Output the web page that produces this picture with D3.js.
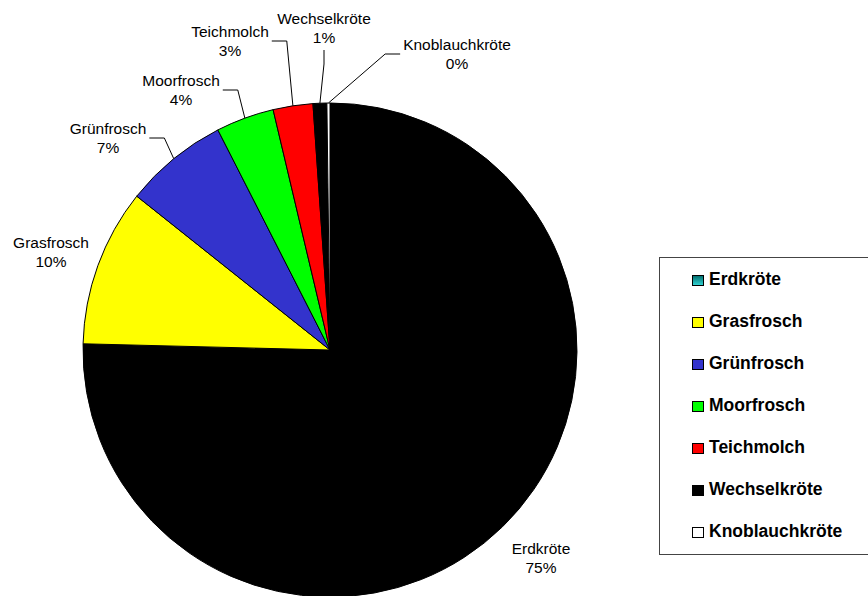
<!DOCTYPE html>
<html>
<head>
<meta charset="utf-8">
<script src="https://cdn.jsdelivr.net/npm/d3@7"></script>
<style>
  body { margin: 0; background: #fff; }
  text { font-family: Arial, "Liberation Sans", sans-serif; }
</style>
</head>
<body>
<svg id="chart" width="868" height="596"></svg>
<script>
// data
var species = ['Erdkröte', 'Grasfrosch', 'Grünfrosch', 'Moorfrosch', 'Teichmolch', 'Wechselkröte', 'Knoblauchkröte'];
var counts = [754, 103, 68, 38, 26, 9, 2];
var sliceColors = ['#000000', '#ffff00', '#3333cc', '#00ff00', '#ff0000', '#000000', '#ffffff'];

var cx = 330, cy = 350, radius = 247;

// label placement relative to pie centre (first baseline), and leader style
var labelPos = [
  { dx: 211, dy: 204, leader: null },
  { dx: -279, dy: -102, leader: null },
  { dx: -222, dy: -216, leader: 'left' },
  { dx: -149, dy: -264, leader: 'left' },
  { dx: -100, dy: -313, leader: 'left' },
  { dx: -6, dy: -326, leader: 'down' },
  { dx: 127, dy: -300, leader: 'right' }
];

var svg = d3.select('#chart');

var defs = svg.append('defs');
var grad = defs.append('linearGradient').attr('id', 'tealGrad').
  attr('x1', 0).attr('y1', 0).attr('x2', 0).attr('y2', 1);
grad.append('stop').attr('offset', '0%').attr('stop-color', '#006a6a');
grad.append('stop').attr('offset', '100%').attr('stop-color', '#33d6d6');

var total = d3.sum(counts);
var data = species.map(function (s, i) { return { name: s, value: counts[i], i: i }; });

var pie = d3.pie().sort(null).value(function (d) { return d.value; }).startAngle(0).endAngle(2 * Math.PI);
var arc = d3.arc().innerRadius(0).outerRadius(radius);
var arcs = pie(data);

var g = svg.append('g').attr('transform', 'translate(' + cx + ',' + cy + ')');

g.selectAll('path.slice').
  data(arcs).
  enter().
  append('path').
  attr('class', 'slice').
  attr('d', arc).
  attr('fill', function (d) { return sliceColors[d.data.i]; }).
  attr('stroke', '#000').
  attr('stroke-width', 1);

// data labels with leader lines
var lineH = 19;
arcs.forEach(function (d, i) {
  var p = labelPos[i];
  var pct = Math.round(d.data.value / total * 100) + '%';
  var t = g.append('text').
    attr('text-anchor', 'middle').
    style('font-size', '15.5px').
    attr('fill', '#000');
  t.append('tspan').attr('x', p.dx).attr('y', p.dy).text(d.data.name);
  t.append('tspan').attr('x', p.dx).attr('y', p.dy + lineH).text(pct);

  if (!p.leader) return;
  var w = t.node().firstChild.getComputedTextLength();
  var mid = (d.startAngle + d.endAngle) / 2;
  var ax = radius * Math.sin(mid), ay = -radius * Math.cos(mid);
  var pts;
  if (p.leader === 'left') {
    var x0 = p.dx + w / 2 + 3, y0 = p.dy + 4;
    pts = [[x0, y0], [x0 + 15, y0], [ax, ay]];
  } else if (p.leader === 'right') {
    var x0r = p.dx - w / 2 - 3, y0r = p.dy + 4;
    pts = [[x0r, y0r], [x0r - 15, y0r], [ax, ay]];
  } else {
    var yd = p.dy + lineH + 7;
    pts = [[p.dx, yd], [p.dx, yd + 14], [ax, ay]];
  }
  g.append('path').
    attr('d', d3.line()(pts)).
    attr('fill', 'none').
    attr('stroke', '#000').
    attr('stroke-width', 1);
});

// legend
var legend = svg.append('g');
legend.append('rect').
  attr('x', 659.5).attr('y', 257.5).
  attr('width', 240).attr('height', 297).
  attr('fill', '#fff').
  attr('stroke', '#444').
  attr('stroke-width', 1);

var ly = d3.scalePoint().domain(species).range([285, 537]);

var item = legend.selectAll('g.item').
  data(data).
  enter().
  append('g').
  attr('class', 'item').
  attr('transform', function (d) { return 'translate(692,' + ly(d.name) + ')'; });

item.append('rect').
  attr('x', 0.5).attr('y', -9.5).
  attr('width', 11).attr('height', 10).
  attr('fill', function (d) { return d.i === 0 ? 'url(#tealGrad)' : sliceColors[d.i]; }).
  attr('stroke', '#000').
  attr('stroke-width', 1);

item.append('text').
  attr('x', 17).attr('y', 0).
  style('font-size', '17.5px').
  style('font-weight', 'bold').
  attr('fill', '#000').
  text(function (d) { return d.name; });
</script>
</body>
</html>
